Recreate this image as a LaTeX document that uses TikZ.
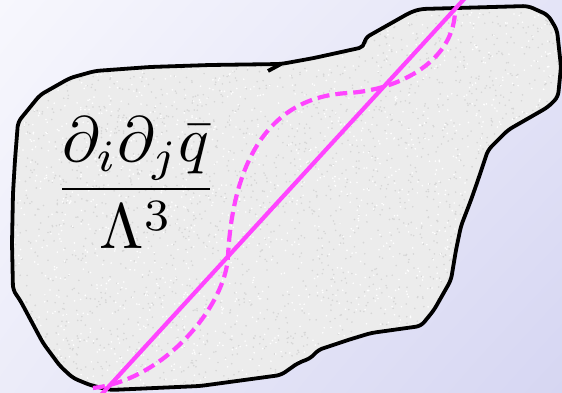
\documentclass[tikz,border=0pt]{standalone}
\usepackage{amsmath,amssymb}
\usepackage{tikz}
\usetikzlibrary{calc,shadings}

\definecolor{bgTL}{RGB}{247,247,253}
\definecolor{bgTR}{RGB}{228,228,247}
\definecolor{bgBL}{RGB}{236,236,249}
\definecolor{bgBR}{RGB}{214,214,242}
\definecolor{patch}{RGB}{236,236,236}
\definecolor{grain}{RGB}{214,214,214}
\definecolor{pathpink}{RGB}{255,68,255}

\tikzset{
  boundary/.style={draw=black, line width=3.8pt, line join=round, rounded corners=5pt},
  straightpath/.style={draw=pathpink, line width=4.2pt},
  wigglepath/.style={draw=pathpink, line width=4.2pt, dash pattern=on 12pt off 6pt}
}

% outline of the region, used for the fill, the grain and the border
\newcommand{\regionoutline}{(18,122) -- (40,95) -- (70,78) -- (95,71) -- (150,67) -- (210,65)
        -- (281,64) -- (314,58) -- (364,47) -- (365,38) -- (388,25) -- (411,12)
        -- (421,9) -- (528,6) -- (548,15) -- (557,30) -- (561,67) -- (558,97)
        -- (548,107) -- (508,130) -- (488,150) -- (478,180) -- (471,200)
        -- (461,226) -- (456,250) -- (451,280) -- (434,310) -- (421,326)
        -- (371,333) -- (348,340) -- (318,350) -- (311,358) -- (298,363)
        -- (281,375) -- (200,386) -- (110,390) -- (90,385) -- (73,378)
        -- (60,366) -- (43,343) -- (20,300) -- (13,290) -- (12,243)
        -- (13,193) -- (15,160) -- cycle}

\begin{document}
\begin{tikzpicture}[x=1pt,y=-1pt]
      % page size fixed by the backdrop; coordinates follow the pixel grid
      \useasboundingbox (0,0) rectangle (562,393);
      \clip (0,0) rectangle (562,393);
      \shade[upper left=bgTL, upper right=bgTR, lower left=bgBL, lower right=bgBR]
        (0,0) rectangle (562,393);
      \fill[patch, rounded corners=5pt] \regionoutline;
      % speckle the patch so it reads as a rough surface
      \begin{scope}
        \clip[rounded corners=5pt] \regionoutline;
        \pgfmathsetseed{17}
        \foreach \k in {1,...,2600}
          \fill[grain] ({12+rnd*550},{5+rnd*386}) circle (0.9);
        \foreach \k in {1,...,1800}
          \fill[white] ({12+rnd*550},{5+rnd*386}) circle (0.9);
      \end{scope}
      \path[boundary] \regionoutline;
      \draw[line width=3.8pt] (268,71) -- (281,64);
      % ends of the two paths and where the wiggly one turns
      \coordinate (lo) at (100,396);
      \coordinate (hi) at (466,-3);
      \coordinate (w0) at (93,388);
      \coordinate (c1) at (228,256);
      \coordinate (m) at (348,93);
      \coordinate (c3) at (455,8);
      \draw[straightpath] (lo) -- (hi);
      \draw[wigglepath] (w0) .. controls (165,380) and (226,305) .. (c1)
        .. controls (233,160) and (270,97) .. (m)
        .. controls (400,90) and (456,60) .. (c3);
      \node[scale=6.4] (ratio) at (136,183)
        {$\displaystyle\frac{\partial_i\partial_j\bar q}{\Lambda^3}$};
    \end{tikzpicture}
\end{document}
